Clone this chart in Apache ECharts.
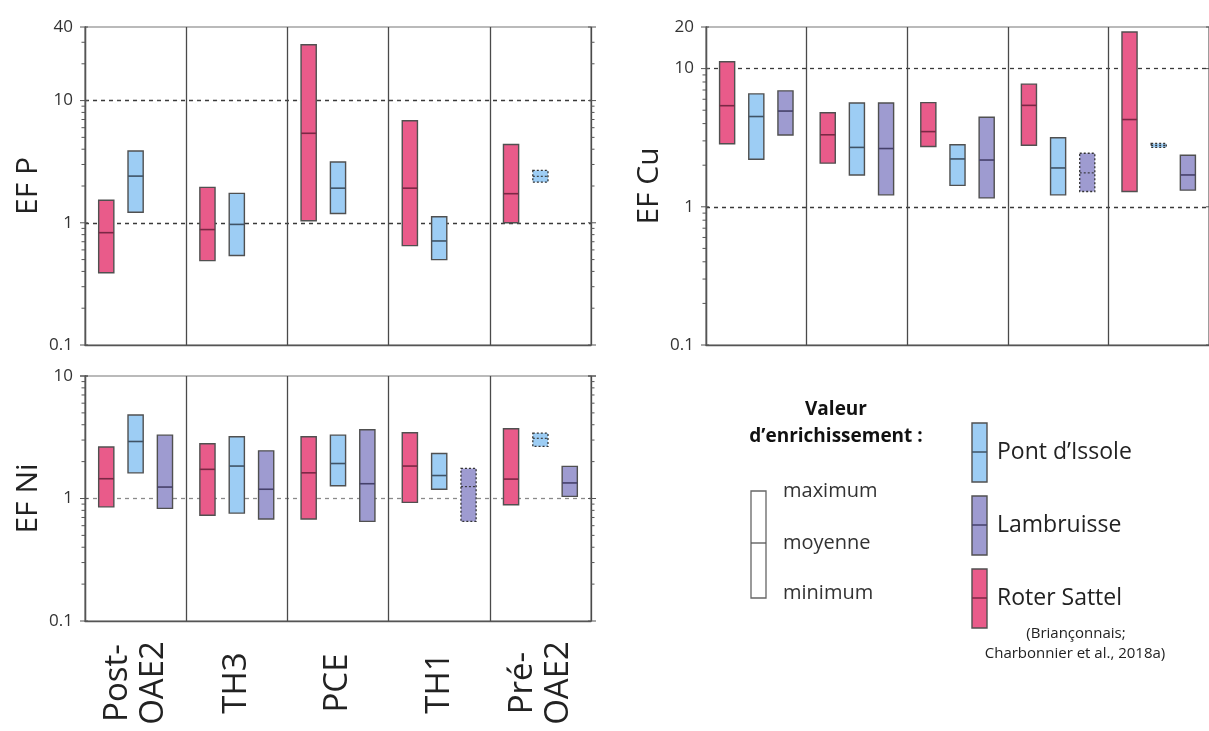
<!DOCTYPE html>
<html><head><meta charset="utf-8">
<script src="https://cdn.jsdelivr.net/npm/echarts@6/dist/echarts.min.js"></script>
<style>html,body{margin:0;padding:0;background:#fff}#c{width:1209px;height:731px}</style>
</head><body><div id="c"></div>
<script>
// ---------- data ----------
const categories = ['Post-\nOAE2', 'TH3', 'PCE', 'TH1', 'Pré-\nOAE2'];
const siteNames = ['Roter Sattel', 'Pont d\u2019Issole', 'Lambruisse'];
// each entry: [minimum, moyenne, maximum]; null = no data
const efP_roter = [[0.39, 0.83, 1.53], [0.49, 0.88, 1.95], [1.04, 5.4, 28.6], [0.65, 1.92, 6.84], [1.0, 1.73, 4.37]];
const efP_pont  = [[1.22, 2.41, 3.87], [0.54, 0.97, 1.74], [1.19, 1.92, 3.14], [0.50, 0.71, 1.12], [2.15, 2.4, 2.68]];
const efP_lamb  = [null, null, null, null, null];
const efCu_roter = [[2.86, 5.39, 11.2], [2.07, 3.32, 4.79], [2.73, 3.5, 5.67], [2.79, 5.42, 7.72], [1.29, 4.28, 18.4]];
const efCu_pont  = [[2.21, 4.5, 6.56], [1.70, 2.69, 5.64], [1.43, 2.22, 2.81], [1.22, 1.91, 3.16], [2.69, 2.78, 2.87]];
const efCu_lamb  = [[3.31, 4.93, 6.9], [1.22, 2.64, 5.64], [1.16, 2.18, 4.45], [1.29, 1.76, 2.44], [1.32, 1.70, 2.36]];
const efNi_roter = [[0.855, 1.45, 2.63], [0.73, 1.73, 2.80], [0.68, 1.62, 3.19], [0.93, 1.84, 3.44], [0.89, 1.44, 3.71]];
const efNi_pont  = [[1.62, 2.92, 4.80], [0.76, 1.84, 3.19], [1.27, 1.93, 3.29], [1.19, 1.54, 2.33], [2.66, 3.1, 3.42]];
const efNi_lamb  = [[0.83, 1.24, 3.29], [0.68, 1.19, 2.45], [0.65, 1.32, 3.64], [0.65, 1.25, 1.76], [1.04, 1.34, 1.83]];
// uncertain values drawn with dotted outline (category indices)
const efP_dotted_pont = [4];
const efCu_dotted_pont = [4];
const efCu_dotted_lamb = [3];
const efNi_dotted_pont = [4];
const efNi_dotted_lamb = [3];
// axis ranges / ticks
const efP_range = [0.1, 40];
const efCu_range = [0.1, 20];
const efNi_range = [0.1, 10];
const majorTickValues = [0.1, 1, 10];
const minorTickValues = [0.2, 0.3, 0.4, 0.5, 0.6, 0.7, 0.8, 0.9, 2, 3, 4, 5, 6, 7, 8, 9, 20, 30];
const legendLevels = ['maximum', 'moyenne', 'minimum'];

// ---------- style ----------
const FONT = 'Open Sans';
const siteFill = ['#E95B8A', '#9DCDF4', '#9E9BD0'];
const siteMean = ['#7A2845', '#3F5366', '#45406A'];
const siteOffset = [-0.29, 0, 0.29];
const BORDER = '#505050';

function boxData(arr, dotted) {
  const out = [];
  arr.forEach((v, i) => { if (v) out.push([i, v[0], v[1], v[2], dotted.indexOf(i) >= 0 ? 1 : 0]); });
  return out;
}

function boxRender(site) {
  return function (params, api) {
    const ci = api.value(0), lo = api.value(1), mid = api.value(2), hi = api.value(3);
    const dotted = api.value(4) === 1;
    const band = api.size([1, 0])[0];
    const cm = api.coord([ci, mid]);
    const cx = cm[0] + siteOffset[site] * band;
    const yTop = api.coord([ci, hi])[1];
    const yBot = api.coord([ci, lo])[1];
    const w = band * 0.15;
    const children = [{
      type: 'rect',
      shape: { x: cx - w / 2, y: yTop, width: w, height: yBot - yTop },
      style: { fill: siteFill[site], stroke: dotted ? '#333' : BORDER, lineWidth: dotted ? 1.3 : 1.4,
               lineDash: dotted ? [2, 2] : null }
    }, {
      type: 'line',
      shape: { x1: cx - w / 2, y1: cm[1], x2: cx + w / 2, y2: cm[1] },
      style: { stroke: dotted ? '#333' : siteMean[site], lineWidth: dotted ? 1.1 : 1.6,
               lineDash: dotted ? [2, 2] : null }
    }];
    return { type: 'group', children: children };
  };
}

function tickRender(params, api) {
  const cs = params.coordSys;
  const y = api.coord([0, api.value(1)])[1];
  const major = api.value(2) === 1;
  const L = major ? 5 : 3.5;
  const st = { stroke: '#555', lineWidth: 1 };
  return { type: 'group', children: [
    { type: 'line', shape: { x1: cs.x - L, y1: y, x2: cs.x + (major ? 3 : 0), y2: y }, style: st },
    { type: 'line', shape: { x1: cs.x + cs.width - (major ? 3 : 0), y1: y, x2: cs.x + cs.width + L, y2: y }, style: st }
  ]};
}

function tickData(range) {
  const d = [];
  minorTickValues.forEach(v => { if (v > range[0] && v < range[1]) d.push([0, v, 0]); });
  majorTickValues.concat([range[1]]).forEach(v => { if (v <= range[1]) d.push([0, v, 1]); });
  return d;
}

const grids = [
  { left: 85, top: 27, width: 506, height: 318 },
  { left: 706, top: 27, width: 505, height: 318 },
  { left: 85, top: 376, width: 506, height: 245 }
];
const ranges = [efP_range, efCu_range, efNi_range];
const names = ['EF P', 'EF Cu', 'EF Ni'];
const dashColor = ['#3a3a3a', '#3a3a3a', '#8a8a8a'];

const xAxes = grids.map((g, i) => ({
  type: 'category', gridIndex: i, data: categories, boundaryGap: true,
  axisLine: { show: true, lineStyle: { color: '#555', width: 1.3 } },
  axisTick: { show: false },
  splitLine: { show: true, interval: 0, lineStyle: { color: '#4a4a4a', width: 1.3 } },
  axisLabel: i === 2 ? {
    show: true, interval: 0, rotate: 90, margin: 62, align: 'center', verticalAlign: 'middle',
    fontFamily: FONT, fontSize: 33, color: '#222', lineHeight: 36
  } : { show: false }
}));

const yAxes = grids.map((g, i) => ({
  type: 'log', logBase: 10, gridIndex: i, min: ranges[i][0], max: ranges[i][1],
  name: names[i], nameLocation: 'middle', nameGap: 42, nameRotate: 90,
  nameTextStyle: { fontFamily: FONT, fontSize: 30, color: '#222' },
  axisLine: { show: true, lineStyle: { color: '#555', width: 1.3 } },
  axisTick: { show: false },
  minorTick: { show: false },
  axisLabel: { fontFamily: FONT, fontSize: 17, color: '#333', margin: 12,
    formatter: v => String(Math.round(v * 10) / 10) },
  splitLine: { show: true, showMinLine: false, showMaxLine: false,
    lineStyle: { color: dashColor[i], type: [4, 4], width: 1.3 } }
}));

const panelData = [
  [efP_roter, efP_pont, efP_lamb],
  [efCu_roter, efCu_pont, efCu_lamb],
  [efNi_roter, efNi_pont, efNi_lamb]
];
const panelDotted = [
  [[], efP_dotted_pont, []],
  [[], efCu_dotted_pont, efCu_dotted_lamb],
  [[], efNi_dotted_pont, efNi_dotted_lamb]
];

const series = [];
for (let p = 0; p < 3; p++) {
  series.push({
    type: 'custom', xAxisIndex: p, yAxisIndex: p, silent: true, clip: false, z: 1,
    renderItem: tickRender, data: tickData(ranges[p]), encode: { x: 0, y: 1 }
  });
  for (let s = 0; s < 3; s++) {
    series.push({
      type: 'custom', name: siteNames[s], xAxisIndex: p, yAxisIndex: p, z: 5,
      renderItem: boxRender(s), data: boxData(panelData[p][s], panelDotted[p][s]),
      encode: { x: 0, y: [1, 2, 3] }
    });
  }
}

// ---------- legend (graphic) ----------
const graphic = [];
graphic.push({ type: 'text', style: {
  text: 'Valeur', x: 836, y: 410, align: 'center', verticalAlign: 'middle',
  font: 'bold 19px "' + FONT + '"', fill: '#111' } });
graphic.push({ type: 'text', style: {
  text: 'd\u2019enrichissement :', x: 836, y: 437, align: 'center', verticalAlign: 'middle',
  font: 'bold 19px "' + FONT + '"', fill: '#111' } });
graphic.push({ type: 'rect', shape: { x: 751, y: 491, width: 15, height: 107 },
  style: { fill: '#fff', stroke: '#666', lineWidth: 1.3 } });
graphic.push({ type: 'line', shape: { x1: 751, y1: 543, x2: 766, y2: 543 },
  style: { stroke: '#555', lineWidth: 1.3 } });
[491, 543, 593].forEach((y, k) => {
  graphic.push({ type: 'text', style: { text: legendLevels[k], x: 783, y: y, align: 'left',
    verticalAlign: 'middle', font: '20px "' + FONT + '"', fill: '#333' } });
});
const legendOrder = [1, 2, 0];
const legendTops = [423, 496, 569];
legendOrder.forEach((s, k) => {
  const y = legendTops[k];
  graphic.push({ type: 'rect', shape: { x: 972, y: y, width: 15, height: 59 },
    style: { fill: siteFill[s], stroke: BORDER, lineWidth: 1.4 } });
  graphic.push({ type: 'line', shape: { x1: 972, y1: y + 29, x2: 987, y2: y + 29 },
    style: { stroke: siteMean[s], lineWidth: 1.5 } });
  graphic.push({ type: 'text', style: { text: siteNames[s], x: 997, y: y + 29, align: 'left',
    verticalAlign: 'middle', font: '23px "' + FONT + '"', fill: '#222' } });
});
graphic.push({ type: 'text', style: { text: '(Brian\u00e7onnais;', x: 1076, y: 634, align: 'center',
  verticalAlign: 'middle', font: '15px "' + FONT + '"', fill: '#222' } });
graphic.push({ type: 'text', style: { text: 'Charbonnier et al., 2018a)', x: 1075, y: 654, align: 'center',
  verticalAlign: 'middle', font: '15px "' + FONT + '"', fill: '#222' } });

const chart = echarts.init(document.getElementById('c'), null, { renderer: 'canvas' });
chart.setOption({
  animation: false,
  backgroundColor: '#fff',
  grid: grids.map(g => Object.assign({ show: true, borderColor: '#777', borderWidth: 1.2, containLabel: false }, g)),
  xAxis: xAxes,
  yAxis: yAxes,
  series: series,
  graphic: graphic
});
</script></body></html>
